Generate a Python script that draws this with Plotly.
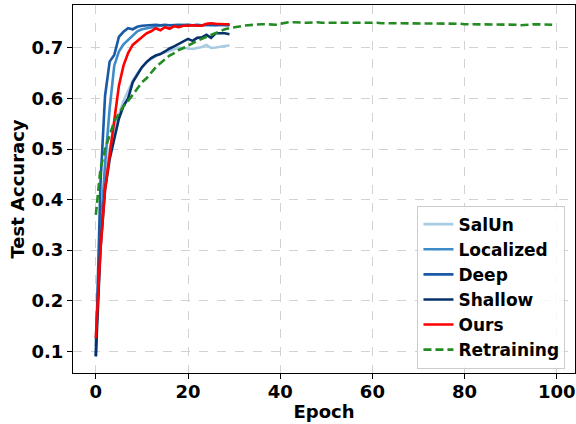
import plotly.graph_objects as go

epochs_short = list(range(30))
epochs_long = list(range(100))

salun = [0.12, 0.33, 0.44, 0.50, 0.54, 0.57, 0.595, 0.615, 0.635, 0.65,
         0.662, 0.672, 0.678, 0.684, 0.688, 0.691, 0.694, 0.698, 0.701, 0.700,
         0.699, 0.698, 0.700, 0.702, 0.706, 0.700, 0.701, 0.703, 0.704, 0.705]
localized = [0.11, 0.33, 0.47, 0.58, 0.665, 0.693, 0.707, 0.716, 0.725, 0.733,
             0.737, 0.739, 0.741, 0.743, 0.744, 0.745, 0.745, 0.744, 0.745, 0.746,
             0.745, 0.745, 0.744, 0.745, 0.746, 0.745, 0.745, 0.746, 0.745, 0.746]
deep = [0.09, 0.43, 0.605, 0.673, 0.686, 0.722, 0.732, 0.739, 0.737, 0.742,
        0.744, 0.745, 0.745, 0.746, 0.745, 0.746, 0.745, 0.746, 0.746, 0.745,
        0.746, 0.745, 0.746, 0.745, 0.746, 0.746, 0.745, 0.746, 0.745, 0.745]
shallow = [0.09, 0.30, 0.42, 0.48, 0.52, 0.56, 0.585, 0.60, 0.632, 0.648,
           0.662, 0.672, 0.680, 0.685, 0.688, 0.693, 0.699, 0.703, 0.708, 0.712,
           0.718, 0.714, 0.720, 0.721, 0.726, 0.720, 0.729, 0.729, 0.729, 0.727]
ours = [0.126, 0.30, 0.42, 0.49, 0.56, 0.625, 0.665, 0.690, 0.706, 0.714,
        0.722, 0.729, 0.733, 0.739, 0.735, 0.741, 0.738, 0.743, 0.741, 0.744,
        0.744, 0.745, 0.744, 0.744, 0.748, 0.749, 0.748, 0.747, 0.747, 0.747]
retraining = [0.37, 0.46, 0.50, 0.53, 0.555, 0.57, 0.585, 0.595, 0.607, 0.618,
              0.632, 0.640, 0.652, 0.662, 0.670, 0.678, 0.685, 0.690, 0.696, 0.700,
              0.705, 0.709, 0.714, 0.718, 0.722, 0.726, 0.730, 0.734, 0.737, 0.739,
              0.741, 0.743, 0.744, 0.745, 0.746, 0.747, 0.747, 0.747, 0.746, 0.746,
              0.748, 0.750, 0.751, 0.751, 0.750, 0.750, 0.750, 0.751, 0.751, 0.750,
              0.750, 0.751, 0.750, 0.750, 0.750, 0.751, 0.750, 0.750, 0.751, 0.751,
              0.751, 0.750, 0.749, 0.749, 0.749, 0.749, 0.749, 0.749, 0.749, 0.749,
              0.748, 0.749, 0.749, 0.749, 0.749, 0.748, 0.748, 0.748, 0.748, 0.748,
              0.747, 0.747, 0.747, 0.746, 0.746, 0.747, 0.746, 0.746, 0.746, 0.746,
              0.746, 0.746, 0.745, 0.745, 0.746, 0.747, 0.747, 0.747, 0.746, 0.746]

x_ticks = [0, 20, 40, 60, 80, 100]
y_ticks = [0.1, 0.2, 0.3, 0.4, 0.5, 0.6, 0.7]

FONT = "DejaVu Sans"
LW = 2.6

series = [
    ("SalUn", salun, "#a6cbe3", "solid"),
    ("Localized", localized, "#3d8bc7", "solid"),
    ("Deep", deep, "#1a5aa5", "solid"),
    ("Shallow", shallow, "#08306b", "solid"),
    ("Ours", ours, "#ff0000", "solid"),
]

fig = go.Figure()
for name, vals, color, dash in series:
    fig.add_trace(go.Scatter(x=epochs_short, y=vals, mode="lines", name=name,
                             line=dict(color=color, width=LW, dash=dash)))
fig.add_trace(go.Scatter(x=epochs_long, y=retraining, mode="lines", name="Retraining",
                         line=dict(color="#228b22", width=LW, dash="8px,4px")))

axis_common = dict(
    showline=True, linecolor="black", linewidth=1, mirror=True,
    ticks="outside", ticklen=5, tickwidth=1, tickcolor="black",
    showgrid=True, gridcolor="#d2d2d2", griddash="dash", gridwidth=1,
    zeroline=False,
    tickfont=dict(family=FONT, size=18, color="black", weight="bold"),
)

fig.update_layout(
    width=576, height=424,
    margin=dict(l=73, r=1, t=5, b=51),
    paper_bgcolor="white", plot_bgcolor="white",
    font=dict(family=FONT, color="black"),
    xaxis=dict(range=[-4.95, 103.95], tickvals=x_ticks, ticklabelstandoff=-3,
               title=dict(text="Epoch", font=dict(family=FONT, size=18, weight="bold"), standoff=4),
               **axis_common),
    yaxis=dict(range=[0.057, 0.785], tickvals=y_ticks, tickformat=".1f",
               title=dict(text="Test Accuracy", font=dict(family=FONT, size=18, weight="bold"), standoff=2),
               **axis_common),
    legend=dict(x=0.981, y=0.012, xanchor="right", yanchor="bottom",
                bgcolor="rgba(255,255,255,0.85)", bordercolor="#cccccc", borderwidth=1,
                font=dict(family=FONT, size=17, color="black", weight="bold"),
                itemwidth=30),
    showlegend=True,
)

fig.write_html("out.html")
